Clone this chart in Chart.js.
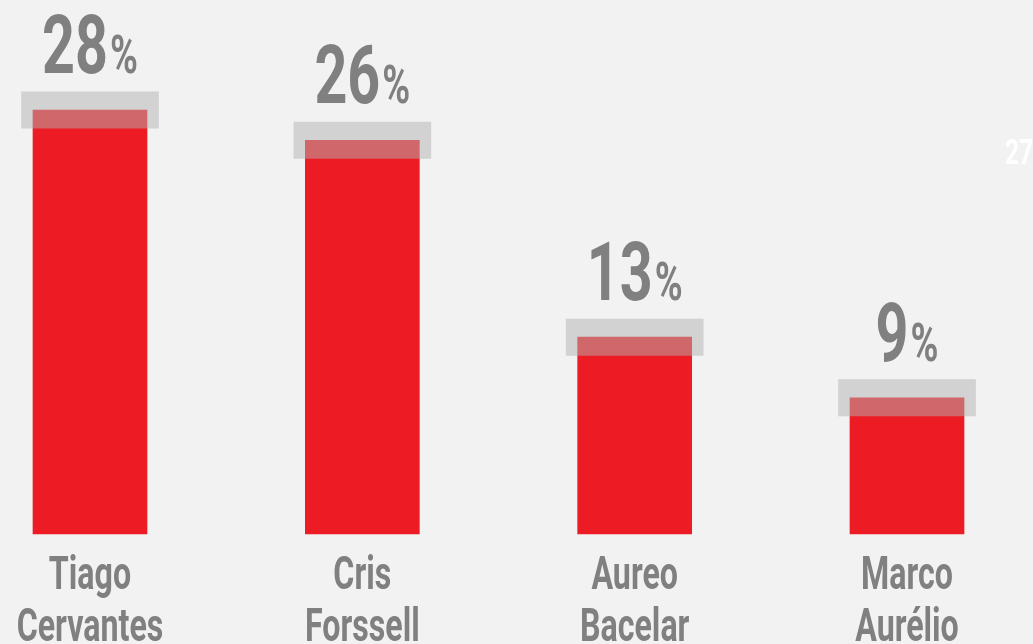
<!DOCTYPE html>
<html><head><meta charset="utf-8">
<style>html,body{margin:0;padding:0;background:#f2f2f2;}#wrap{width:1033px;height:644px;position:relative;}</style>
<script src="https://cdn.jsdelivr.net/npm/chart.js@4.4.1/dist/chart.umd.min.js"></script>
</head><body><div id="wrap"><canvas id="c"></canvas></div>
<script>
const categories = [["Tiago","Cervantes"],["Cris","Forssell"],["Aureo","Bacelar"],["Marco","Aurélio"]];
const shares = [28, 26, 13, 9];
const margins = [1.2, 1.2, 1.2, 1.2];
const sideNote = "27";

const FAMILY = 'Roboto, "Liberation Sans", sans-serif';
const GRAY = '#808080';
const SX = 0.7;

function drawCondensed(ctx, text, x, y, font, align) {
  ctx.save();
  ctx.font = font;
  const w = ctx.measureText(text).width * SX;
  let left = x;
  if (align === 'center') left = x - w / 2;
  else if (align === 'right') left = x - w;
  ctx.translate(left, y);
  ctx.scale(SX, 1);
  ctx.textAlign = 'left';
  ctx.fillText(text, 0, 0);
  ctx.restore();
  return w;
}

const textLayer = {
  id: 'textLayer',
  afterDatasetsDraw(chart) {
    const ctx = chart.ctx;
    const xs = chart.scales.x;
    const meta = chart.getDatasetMeta(1);
    ctx.save();
    ctx.fillStyle = GRAY;
    ctx.textBaseline = 'alphabetic';
    const fNum = 'bold 82px ' + FAMILY;
    const fPct = 'bold 54px ' + FAMILY;
    const fLab = 'bold 46px ' + FAMILY;
    meta.data.forEach((bar, i) => {
      const num = String(shares[i]);
      ctx.font = fNum;
      const w1 = ctx.measureText(num).width * SX;
      ctx.font = fPct;
      const w2 = ctx.measureText('%').width * SX;
      const gap = 2;
      const left = bar.x - (w1 + gap + w2) / 2;
      const base = bar.y - 37;
      drawCondensed(ctx, num, left, base, fNum, 'left');
      drawCondensed(ctx, '%', left + w1 + gap, base, fPct, 'left');
    });
    categories.forEach((lines, i) => {
      const x = xs.getPixelForValue(i);
      const base0 = chart.chartArea.bottom + 55;
      lines.forEach((line, j) => {
        drawCondensed(ctx, line, x, base0 + j * 52, fLab, 'center');
      });
    });
    ctx.fillStyle = '#ffffff';
    drawCondensed(ctx, sideNote, chart.width - 28, 164, 'bold 35px ' + FAMILY, 'left');
    ctx.restore();
  }
};

new Chart(document.getElementById('c'), {
  type: 'bar',
  data: {
    labels: categories,
    datasets: [
      {
        label: 'margem',
        data: shares.map((v, i) => [v - margins[i], v + margins[i]]),
        backgroundColor: 'rgba(178,178,178,0.5)',
        barThickness: 137,
        grouped: false,
        order: 0,
        clip: false
      },
      {
        label: 'votos',
        data: shares,
        backgroundColor: '#ed1c24',
        barThickness: 114,
        grouped: false,
        order: 1,
        clip: false
      }
    ]
  },
  options: {
    responsive: true,
    maintainAspectRatio: false,
    animation: false,
    devicePixelRatio: 1,
    layout: { padding: { left: 90, right: 126, top: 4, bottom: 110 } },
    plugins: { legend: { display: false }, tooltip: { enabled: false } },
    scales: {
      x: { type: 'category', offset: false, display: false },
      y: { display: false, min: 0, max: 35 }
    }
  },
  plugins: [textLayer]
});
</script>
</body></html>
